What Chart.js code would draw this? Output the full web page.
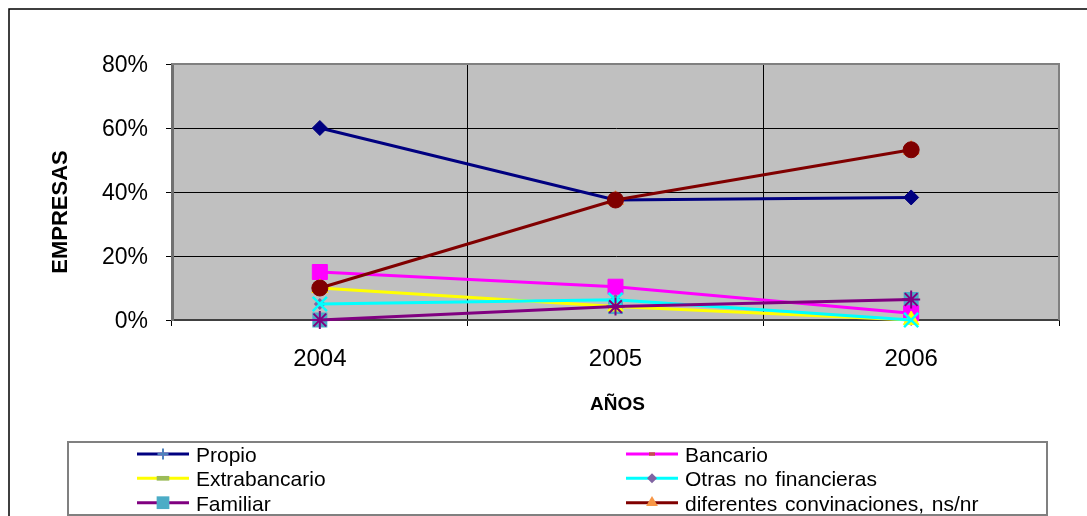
<!DOCTYPE html>
<html>
<head>
<meta charset="utf-8">
<script src="https://cdn.jsdelivr.net/npm/chart.js@4/dist/chart.umd.min.js"></script>
<style>
  html, body { margin: 0; padding: 0; background: #fff; overflow: hidden; }
  #wrap { width: 1087px; height: 516px; }
</style>
</head>
<body>
<div id="wrap"><canvas id="c" width="1087" height="516"></canvas></div>
<script>
// Categories and series (percent of companies per financing source)
const years = ['2004', '2005', '2006'];
const propio = [60, 37.5, 38.3];
const bancario = [15, 10.4, 2.1];
const extrabancario = [10, 4.2, 0];
const otrasNoFinancieras = [5, 6.3, 0];
const familiar = [0, 4.2, 6.4];
const diferentesConvinaciones = [10, 37.5, 53.2];
const seriesNames = ['Propio', 'Bancario', 'Extrabancario', 'Otras no financieras', 'Familiar', 'diferentes convinaciones, ns/nr'];
const yTickValues = [0, 20, 40, 60, 80];
const yTitle = 'EMPRESAS';
const xTitle = 'AÑOS';

const seriesData = [propio, bancario, extrabancario, otrasNoFinancieras, familiar, diferentesConvinaciones];

const FONT = '"Liberation Sans", Arial, sans-serif';

// Per-series look: line colour + top marker, and the secondary marker drawn beneath it
const looks = [
  { line: '#000080', style: 'rectRot',  r: 7.5,  bw: 1,   under: { style: 'cross',    color: '#4F81BD', r: 6,    bw: 2 },   key: { style: 'cross',    r: 5.5, bw: 2 } },
  { line: '#FF00FF', style: 'rect',     r: 10.6, bw: 1,   under: { style: 'line',     color: '#C0504D', r: 3,    bw: 3.5 }, key: { style: 'line',     r: 3,   bw: 3.5 } },
  { line: '#FFFF00', style: 'triangle', r: 9,    bw: 1,   under: { style: 'line',     color: '#9BBB59', r: 6.3,  bw: 4.7 }, key: { style: 'line',     r: 6.3, bw: 4.7 } },
  { line: '#00FFFF', style: 'crossRot', r: 10,   bw: 2.5, under: { style: 'rectRot',  color: '#8064A2', r: 6,    bw: 0 },   key: { style: 'rectRot',  r: 5,   bw: 0 } },
  { line: '#800080', style: 'star',     r: 9,    bw: 2,   under: { style: 'rect',     color: '#4BACC6', r: 10.6, bw: 0 },   key: { style: 'rect',     r: 9,   bw: 0 } },
  { line: '#800000', style: 'circle',   r: 8,    bw: 1,   under: { style: 'triangle', color: '#F79646', r: 10,   bw: 0 },   key: { style: 'triangle', r: 6.8, bw: 0 } }
];

const datasets = [];
seriesData.forEach((vals, i) => {
  const lk = looks[i];
  datasets.push({
    label: seriesNames[i],
    data: vals,
    borderColor: lk.line,
    backgroundColor: lk.line,
    borderWidth: 3,
    pointStyle: lk.style,
    pointRadius: lk.r,
    pointHoverRadius: lk.r,
    pointBackgroundColor: lk.line,
    pointBorderColor: lk.line,
    pointBorderWidth: lk.bw,
    tension: 0,
    fill: false,
    clip: false,
    order: 10 - i
  });
});
seriesData.forEach((vals, i) => {
  const u = looks[i].under;
  datasets.push({
    label: seriesNames[i] + ' ',
    data: vals,
    showLine: false,
    pointStyle: u.style,
    pointRadius: u.r,
    pointHoverRadius: u.r,
    pointBackgroundColor: u.color,
    pointBorderColor: u.color,
    pointBorderWidth: u.bw,
    clip: false,
    order: 50
  });
});

// Simple shape painter for the legend keys
function paintKey(ctx, k, color, x, y) {
  ctx.save();
  ctx.fillStyle = color;
  ctx.strokeStyle = color;
  ctx.lineWidth = k.bw || 1;
  ctx.beginPath();
  const r = k.r;
  if (k.style === 'cross') {
    ctx.moveTo(x, y - r); ctx.lineTo(x, y + r);
    ctx.moveTo(x - r, y); ctx.lineTo(x + r, y);
    ctx.stroke();
  } else if (k.style === 'line') {
    ctx.moveTo(x - r, y); ctx.lineTo(x + r, y);
    ctx.stroke();
  } else if (k.style === 'rectRot') {
    ctx.moveTo(x - r, y); ctx.lineTo(x, y - r); ctx.lineTo(x + r, y); ctx.lineTo(x, y + r);
    ctx.closePath(); ctx.fill();
  } else if (k.style === 'rect') {
    const s = r * Math.SQRT1_2;
    ctx.rect(x - s, y - s, 2 * s, 2 * s); ctx.fill();
  } else if (k.style === 'triangle') {
    ctx.moveTo(x, y - r);
    ctx.lineTo(x + r * 0.866, y + r * 0.5);
    ctx.lineTo(x - r * 0.866, y + r * 0.5);
    ctx.closePath(); ctx.fill();
  }
  ctx.restore();
}

const decor = {
  id: 'decor',
  beforeDraw(chart) {
    const ctx = chart.ctx;
    const a = chart.chartArea;
    ctx.save();
    ctx.fillStyle = '#fff';
    ctx.fillRect(0, 0, chart.width, chart.height);
    // outer frame of the chart object
    ctx.strokeStyle = '#000';
    ctx.lineWidth = 1.5;
    ctx.beginPath();
    ctx.moveTo(9, chart.height + 5);
    ctx.lineTo(9, 9);
    ctx.lineTo(chart.width + 5, 9);
    ctx.stroke();
    // plot background
    ctx.fillStyle = '#C0C0C0';
    ctx.fillRect(a.left, a.top, a.right - a.left, a.bottom - a.top);
    ctx.restore();
  },
  beforeDatasetsDraw(chart) {
    const ctx = chart.ctx;
    const a = chart.chartArea;
    ctx.save();
    ctx.strokeStyle = '#808080';
    ctx.lineWidth = 2;
    ctx.beginPath();
    ctx.moveTo(a.left, a.top);
    ctx.lineTo(a.right, a.top);
    ctx.lineTo(a.right, a.bottom);
    ctx.stroke();
    ctx.restore();
  },
  afterDraw(chart) {
    const ctx = chart.ctx;
    const a = chart.chartArea;
    ctx.save();
    ctx.fillStyle = '#000';
    // axis titles
    ctx.font = 'bold 22px ' + FONT;
    ctx.textAlign = 'center';
    ctx.textBaseline = 'alphabetic';
    ctx.save();
    ctx.translate(66.5, 212);
    ctx.rotate(-Math.PI / 2);
    ctx.fillText(yTitle, 0, 0);
    ctx.restore();
    ctx.font = 'bold 19px ' + FONT;
    ctx.fillText(xTitle, (a.left + a.right) / 2 + 2, 410);

    // legend box
    ctx.strokeStyle = '#808080';
    ctx.lineWidth = 2;
    ctx.strokeRect(68, 442, 1047 - 68, 515 - 442);

    const lineX = [137, 626];
    const textX = [196, 685];
    const rowY = [454, 478.3, 502.7];
    ctx.font = '21px ' + FONT;
    ctx.textAlign = 'left';
    try { ctx.wordSpacing = '2px'; } catch (e) {}
    seriesNames.forEach((name, i) => {
      const col = i % 2, row = Math.floor(i / 2);
      const y = rowY[row];
      const lk = looks[i];
      ctx.strokeStyle = lk.line;
      ctx.lineWidth = 3;
      ctx.beginPath();
      ctx.moveTo(lineX[col], y);
      ctx.lineTo(lineX[col] + 52, y);
      ctx.stroke();
      paintKey(ctx, lk.key, lk.under.color, lineX[col] + 26, y);
      ctx.fillStyle = '#000';
      ctx.fillText(name, textX[col], y + 7.8);
    });
    ctx.restore();
  }
};

new Chart(document.getElementById('c'), {
  type: 'line',
  data: { labels: years, datasets: datasets },
  options: {
    responsive: false,
    animation: false,
    devicePixelRatio: 1,
    layout: { padding: { top: 64, right: 28, bottom: 0, left: 0 } },
    plugins: { legend: { display: false }, tooltip: { enabled: false } },
    scales: {
      x: {
        offset: true,
        grid: { offset: true, color: '#000', lineWidth: 1, drawTicks: true, tickLength: 6, tickColor: '#000' },
        border: { color: '#404040', width: 2 },
        ticks: { color: '#000', font: { family: FONT, size: 24 }, padding: 19 },
        afterFit(s) { s.height = 196; }
      },
      y: {
        min: 0,
        max: 80,
        afterBuildTicks(s) { s.ticks = yTickValues.map(v => ({ value: v })); },
        ticks: { color: '#000', font: { family: FONT, size: 23 }, padding: 18, labelOffset: 2, callback: v => v + '%' },
        grid: { color: '#000', lineWidth: 1, drawTicks: true, tickLength: 6, tickColor: '#000' },
        border: { color: '#707070', width: 3 },
        afterFit(s) { s.width = 172; }
      }
    }
  },
  plugins: [decor]
});
</script>
</body>
</html>
